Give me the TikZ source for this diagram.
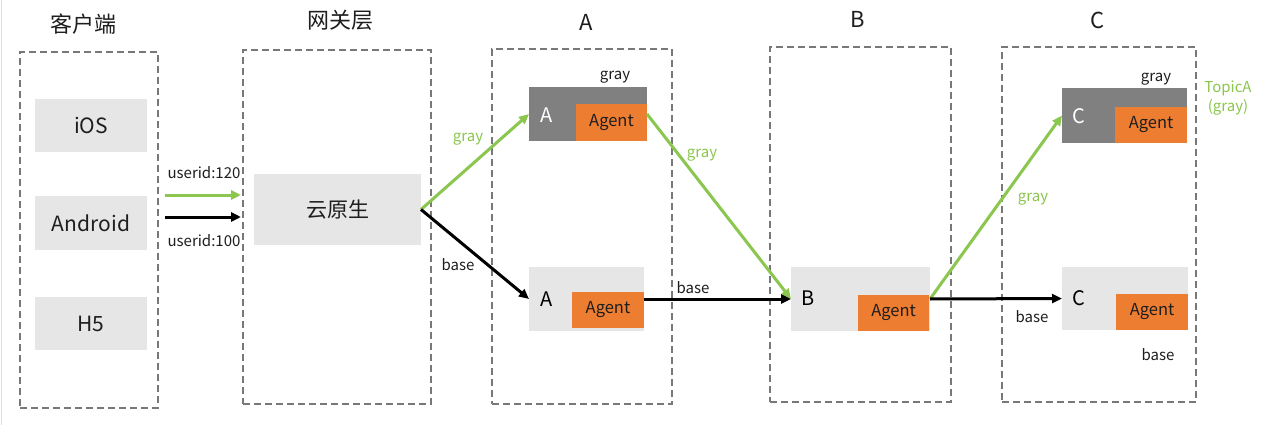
\documentclass[tikz,border=0pt]{standalone}
\usepackage{fontspec}
\setmainfont{Noto Sans CJK SC}
\usetikzlibrary{arrows.meta}
\definecolor{lgreen}{RGB}{139,198,78}
\definecolor{orng}{RGB}{237,125,49}
\definecolor{dgray}{RGB}{128,128,128}
\definecolor{lgray}{RGB}{230,230,230}
\definecolor{dashc}{RGB}{120,120,120}
\definecolor{txt}{RGB}{30,30,30}
\tikzset{
  x=1pt,y=-1pt,
  every node/.style={inner sep=0pt,outer sep=0pt,text=txt},
  dbox/.style={draw=dashc,line width=1.3pt,dash pattern=on 7pt off 4pt,anchor=north west},
  pbox/.style={fill=lgray,anchor=north west},
  ptext/.style={font=\fontsize{21}{25}\selectfont},
  gbox/.style={fill=dgray,anchor=north west},
  lbox/.style={fill=lgray,anchor=north west},
  agent/.style={fill=orng,anchor=north west,font=\fontsize{16.5}{19}\selectfont},
  title/.style={font=\fontsize{22}{26}\selectfont},
  lbl/.style={font=\fontsize{15}{18}\selectfont},
  glbl/.style={font=\fontsize{15}{18}\selectfont,text=lgreen},
  letter/.style={font=\fontsize{20}{24}\selectfont},
  garrow/.style={draw=lgreen,line width=3pt,-{Triangle[length=10pt,width=9pt]}},
  barrow/.style={draw=black,line width=3pt,-{Triangle[length=10pt,width=9pt]}},
}
\begin{document}
\begin{tikzpicture}
\useasboundingbox (0,0) rectangle (1269,425);
\fill[white] (0,0) rectangle (1269,425);
\draw[gray!25,line width=1.5pt] (1.5,0) -- (1.5,425);

% titles
\node[title] (t1) at (83,24) {客户端};
\node[title] (t2) at (340,20) {网关层};
\node[title] (t3) at (586,22) {A};
\node[title] (t4) at (858,19) {B};
\node[title] (t5) at (1098,20) {C};

% dashed containers
\node[dbox,minimum width=138pt,minimum height=356pt] (cli) at (20,52) {};
\node[dbox,minimum width=188pt,minimum height=354pt] (gw) at (243,50) {};
\node[dbox,minimum width=180pt,minimum height=355pt] (da) at (492,49) {};
\node[dbox,minimum width=181pt,minimum height=355pt] (db) at (770,47) {};
\node[dbox,minimum width=194pt,minimum height=355pt] (dc) at (1002,47) {};

% clients
\node[pbox,minimum width=112pt,minimum height=53pt] (ios) at (35,99) {};
\node[ptext] (iost) at (ios.center) {iOS};
\node[pbox,minimum width=112pt,minimum height=54pt] (and) at (35,196) {};
\node[ptext] (andt) at (and.center) {Android};
\node[pbox,minimum width=112pt,minimum height=53pt] (h5) at (35,297) {};
\node[ptext] (h5t) at (h5.center) {H5};

% gateway
\node[pbox,minimum width=167pt,minimum height=71pt] (yun) at (254,174) {};
\node[ptext] (yunt) at (yun.center) {云原生};

% A
\node[gbox,minimum width=118pt,minimum height=54pt] (ga) at (529,87) {};
\node[agent,minimum width=71pt,minimum height=37pt] (gaag) at (576,104) {Agent};
\node[letter,text=white] (gal) at (547,115) {A};
\node[lbl] (gagl) at (615,77) {gray};
\node[lbox,minimum width=115pt,minimum height=64pt] (ba) at (529,267) {};
\node[agent,minimum width=72pt,minimum height=36pt] (baag) at (572,292) {Agent};
\node[letter,text=black] (bal) at (547,299) {A};

% B
\node[lbox,minimum width=139pt,minimum height=64pt] (bb) at (791,267) {};
\node[agent,minimum width=71pt,minimum height=36pt] (bbag) at (858,295) {Agent};
\node[letter,text=black] (bbl) at (808,298) {B};

% C
\node[gbox,minimum width=125pt,minimum height=55pt] (gc) at (1062,88) {};
\node[agent,minimum width=72pt,minimum height=36pt] (gcag) at (1115,107) {Agent};
\node[letter,text=white] (gcl) at (1079,116) {C};
\node[lbl] (gcgl) at (1156,79) {gray};
\node[lbox,minimum width=126pt,minimum height=63pt] (bc) at (1062,267) {};
\node[agent,minimum width=72pt,minimum height=36pt] (bcag) at (1116,294) {Agent};
\node[letter,text=black] (bcl) at (1079,298) {C};
\node[lbl] (bcbl) at (1158,355) {base};
\node[glbl,align=center,font=\fontsize{15}{19}\selectfont] (topic) at (1228,98) {TopicA\\(gray)};

% client -> gateway arrows
\coordinate (g1s) at (165,195);
\coordinate (g1e) at (241,195);
\coordinate (b1s) at (165,217);
\coordinate (b1e) at (241,217);
\draw[garrow] (g1s) -- (g1e);
\draw[barrow] (b1s) -- (b1e);
\node[lbl] (u120) at (204,173) {userid:120};
\node[lbl] (u100) at (204,241) {userid:100};

% connectors
\draw[garrow] (yun.east) -- (ga.west);
\draw[barrow] (yun.east) -- (ba.west);
\node[glbl] (l1) at (468,139) {gray};
\node[lbl] (l2) at (458,265) {base};

\draw[garrow] (ga.east) -- (bb.west);
\draw[barrow] (ba.east) -- (bb.west);
\node[glbl] (l3) at (702,155) {gray};
\node[lbl] (l4) at (693,288) {base};

\draw[garrow] (bb.east) -- (gc.west);
\draw[barrow] (bb.east) -- (bc.west);
\node[glbl] (l5) at (1033,199) {gray};
\node[lbl] (l6) at (1032,317) {base};
\end{tikzpicture}
\end{document}
